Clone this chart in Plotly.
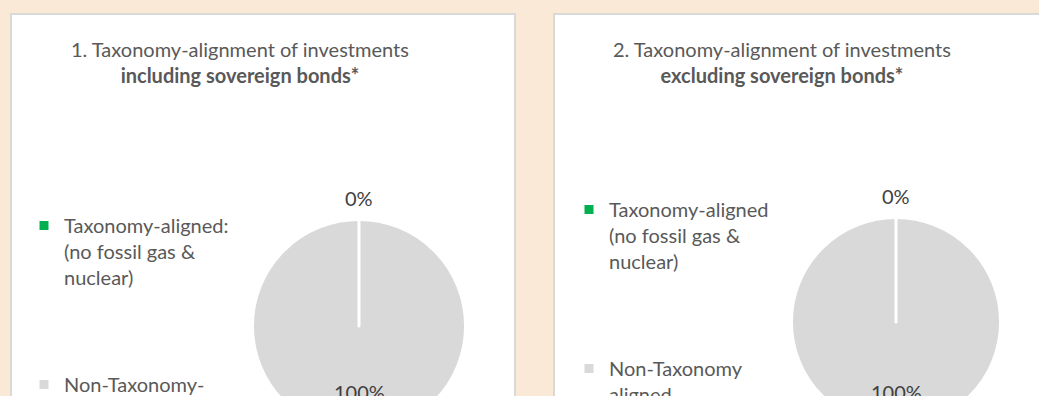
import plotly.graph_objects as go

# Portfolio split for the two views
categories = ["Taxonomy-aligned", "Non-Taxonomy-aligned"]
legend_labels_1 = ["Taxonomy-aligned:<br>(no fossil gas &<br>nuclear)", "Non-Taxonomy-<br>aligned"]
legend_labels_2 = ["Taxonomy-aligned<br>(no fossil gas &<br>nuclear)", "Non-Taxonomy<br>aligned"]
values_incl = [0, 100]
values_excl = [0, 100]
slice_colors = ["#00B050", "#D9D9D9"]

titles = [
    "1. Taxonomy-alignment of investments<br><b>including sovereign bonds*</b>",
    "2. Taxonomy-alignment of investments<br><b>excluding sovereign bonds*</b>",
]

W, H = 1039, 460
FONT = "Lato"
TEXT = "#595959"


def fx(px):
    return px / W


def fy(py):
    return 1 - py / H


def pad(lbl, n):
    return lbl + "<br> " * n


fig = go.Figure()

pies = [
    dict(values=values_incl, labels=legend_labels_1, cx=359, cy=326, r=106.5, legend="legend", pad=3),
    dict(values=values_excl, labels=legend_labels_2, cx=896, cy=322, r=104.5, legend="legend2", pad=3),
]

for p in pies:
    # padded label for first entry keeps the two legend rows apart
    labs = [pad(p["labels"][0], p["pad"]), p["labels"][1]]
    fig.add_trace(go.Pie(
        labels=labs,
        values=p["values"],
        marker=dict(colors=slice_colors, line=dict(color="white", width=3)),
        textinfo="none",
        sort=True,
        direction="clockwise",
        domain=dict(x=[fx(p["cx"] - p["r"]), fx(p["cx"] + p["r"])],
                    y=[fy(p["cy"] + p["r"]), fy(p["cy"] - p["r"])]),
        legend=p["legend"],
        hovertemplate="%{label}: %{percent}<extra></extra>",
    ))

annotations = []
# panel titles
for t, cx in zip(titles, [240, 782]):
    annotations.append(dict(
        x=fx(cx), y=fy(35), xref="paper", yref="paper", xanchor="center", yanchor="top",
        text=t, showarrow=False, align="center",
        font=dict(family=FONT, size=20, color=TEXT),
    ))

# percentage labels
for p, top_y, bot_y in zip(pies, [198, 196], [392, 392]):
    total = sum(p["values"])
    shares = [v / total for v in p["values"]]
    annotations.append(dict(
        x=fx(p["cx"]), y=fy(top_y), xref="paper", yref="paper", xanchor="center", yanchor="middle",
        text=f"{shares[0]:.0%}", showarrow=False,
        font=dict(family=FONT, size=20, color="#404040"),
    ))
    annotations.append(dict(
        x=fx(p["cx"]), y=fy(bot_y), xref="paper", yref="paper", xanchor="center", yanchor="middle",
        text=f"{shares[1]:.0%}", showarrow=False,
        font=dict(family=FONT, size=20, color="#404040"),
    ))

# white cards behind each chart
shapes = [
    dict(type="rect", xref="paper", yref="paper", x0=fx(11), x1=fx(515), y0=fy(H + 20), y1=fy(14),
         fillcolor="white", line=dict(color="#D9D9D9", width=2), layer="below"),
    dict(type="rect", xref="paper", yref="paper", x0=fx(554), x1=fx(W + 20), y0=fy(H + 20), y1=fy(14),
         fillcolor="white", line=dict(color="#D9D9D9", width=2), layer="below"),
]

legend_style = dict(
    font=dict(family=FONT, size=20, color=TEXT),
    bgcolor="rgba(0,0,0,0)",
    traceorder="reversed",
    valign="top",
    xanchor="left",
    yanchor="top",
)

fig.update_layout(
    width=W,
    height=H,
    margin=dict(l=0, r=0, t=0, b=0),
    paper_bgcolor="#FBE9D8",
    plot_bgcolor="#FBE9D8",
    font=dict(family=FONT, color=TEXT),
    showlegend=True,
    legend=dict(x=fx(24), y=fy(206), **legend_style),
    legend2=dict(x=fx(569), y=fy(190), **legend_style),
    annotations=annotations,
    shapes=shapes,
)

fig.write_html(
    "out.html",
    post_script="document.documentElement.style.overflow='hidden';document.body.style.overflow='hidden';document.body.style.margin='0';",
)
